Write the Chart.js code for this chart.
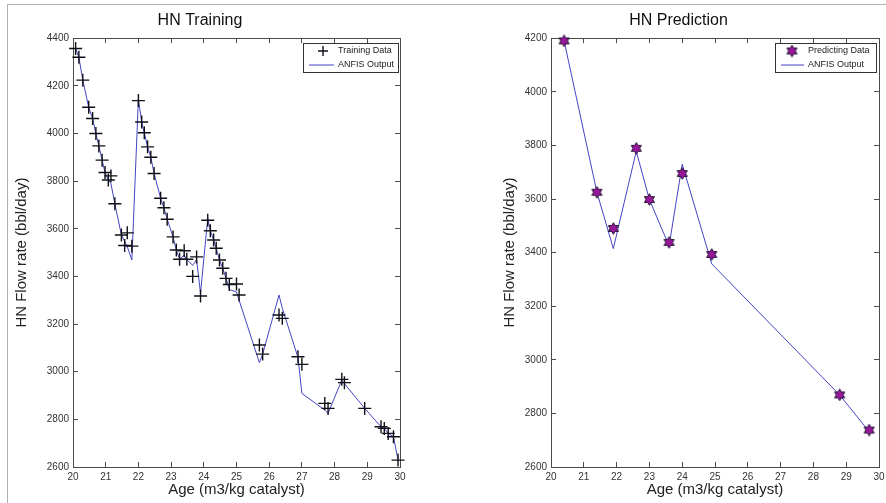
<!DOCTYPE html>
<html>
<head>
<meta charset="utf-8">
<script src="https://cdn.jsdelivr.net/npm/chart.js@4.4.0/dist/chart.umd.min.js"></script>
<style>
  html, body { margin: 0; padding: 0; background: #fff; overflow: hidden; width: 886px; height: 503px; }
  #frame { position: absolute; left: 7px; top: 4px; width: 900px; height: 520px; border-left: 1px solid #b0b0b0; border-top: 1px solid #b0b0b0; }
  #wrapL { position: absolute; left: 0; top: 0; width: 473px; height: 503px; }
  #wrapR { position: absolute; left: 478px; top: 0; width: 474px; height: 503px; }
</style>
</head>
<body>
<div id="frame"></div>
<div id="wrapL"><canvas id="trainChart" width="473" height="503"></canvas></div>
<div id="wrapR"><canvas id="predChart" width="474" height="503"></canvas></div>
<script>
// training set
var train_age = [20.08, 20.18, 20.30, 20.48, 20.60, 20.70, 20.79, 20.89, 20.98, 21.08,
  21.16, 21.28, 21.48, 21.58, 21.66, 21.80, 22.00, 22.10, 22.18, 22.28,
  22.38, 22.48, 22.68, 22.78, 22.88, 23.06, 23.16, 23.26, 23.40, 23.48,
  23.66, 23.78, 23.90, 24.12, 24.20, 24.30, 24.38, 24.48, 24.58, 24.68,
  24.78, 25.00, 25.08, 25.70, 25.80, 26.30, 26.40, 26.88, 27.00, 27.70,
  27.80, 28.22, 28.30, 28.92, 29.42, 29.52, 29.64, 29.80, 29.94];
var train_flow = [4357, 4320, 4224, 4110, 4063, 4000, 3948, 3888, 3836, 3805,
  3822, 3705, 3574, 3530, 3583, 3527, 4138, 4048, 4003, 3944,
  3900, 3832, 3728, 3688, 3640, 3566, 3511, 3472, 3508, 3472,
  3400, 3482, 3318, 3636, 3592, 3553, 3518, 3469, 3434, 3392,
  3366, 3368, 3322, 3112, 3074, 3238, 3224, 3063, 3031, 2867,
  2846, 2968, 2954, 2846, 2769, 2762, 2741, 2727, 2629];
var train_anfis = [4357, 4320, 4224, 4110, 4063, 4000, 3948, 3888, 3836, 3805,
  3790, 3705, 3574, 3548, 3525, 3469, 4145, 4048, 4003, 3944,
  3900, 3832, 3728, 3688, 3640, 3566, 3511, 3472, 3490, 3470,
  3447, 3470, 3330, 3644, 3592, 3553, 3518, 3469, 3434, 3392,
  3345, 3335, 3300, 3038, 3074, 3322, 3267, 3060, 2909, 2839,
  2825, 2965, 2950, 2846, 2769, 2762, 2741, 2727, 2629];

// prediction set
var pred_age = [20.4, 21.4, 21.9, 22.6, 23.0, 23.6, 24.0, 24.9, 28.8, 29.7];
var pred_flow = [4190, 3625, 3490, 3789, 3598, 3438, 3695, 3393, 2869, 2738];
var pred_anfis = [4190, 3625, 3415, 3778, 3598, 3425, 3730, 3358, 2869, 2732];

// tick labels
var age_ticks = [20, 21, 22, 23, 24, 25, 26, 27, 28, 29, 30];
var train_ticks = [2600, 2800, 3000, 3200, 3400, 3600, 3800, 4000, 4200, 4400];
var pred_ticks = [2600, 2800, 3000, 3200, 3400, 3600, 3800, 4000, 4200];

var FONT = '"Liberation Sans", Arial, Helvetica, sans-serif';
var AXIS = '#4a4a4a';

// six-pointed star marker
var hexStar = document.createElement('canvas');
hexStar.width = 13; hexStar.height = 13;
(function() {
  var c = hexStar.getContext('2d');
  c.beginPath();
  for (var k = 0; k < 12; k++) {
    var ang = (-90 + 30 * k) * Math.PI / 180;
    var r = k % 2 === 0 ? 5.8 : 5.8 / Math.sqrt(3);
    c.lineTo(6.5 + r * Math.cos(ang), 6.5 + r * Math.sin(ang));
  }
  c.closePath();
  c.fillStyle = '#98189a';
  c.fill();
  c.lineWidth = 1;
  c.strokeStyle = '#1c1030';
  c.stroke();
})();

function pts(xs, ys) {
  return xs.map(function(x, i) { return {x: x, y: ys[i]}; });
}

// MATLAB style legend box inside the axes
var boxLegend = {
  id: 'boxLegend',
  afterDatasetsDraw: function(chart, args, opts) {
    var ctx = chart.ctx, a = chart.chartArea;
    var w = opts.width, h = 29;
    var x0 = Math.round(a.right - w - opts.right), y0 = Math.round(a.top + 5);
    ctx.save();
    ctx.fillStyle = '#fff';
    ctx.fillRect(x0, y0, w, h);
    ctx.strokeStyle = '#333';
    ctx.lineWidth = 1;
    ctx.strokeRect(x0 + 0.5, y0 + 0.5, w, h);
    ctx.font = '9px ' + FONT;
    ctx.textBaseline = 'middle';
    chart.data.datasets.forEach(function(ds, i) {
      var cy = y0 + 8 + i * 13.5;
      var cx = x0 + opts.markX;
      if (ds.showLine) {
        ctx.strokeStyle = ds.borderColor;
        ctx.lineWidth = 1;
        ctx.beginPath();
        ctx.moveTo(x0 + 6, cy + 0.5);
        ctx.lineTo(x0 + opts.textX - 4, cy + 0.5);
        ctx.stroke();
      } else if (ds.pointStyle === 'cross') {
        ctx.strokeStyle = ds.borderColor;
        ctx.lineWidth = 1.4;
        ctx.beginPath();
        ctx.moveTo(cx - 5, cy); ctx.lineTo(cx + 5, cy);
        ctx.moveTo(cx, cy - 5); ctx.lineTo(cx, cy + 5);
        ctx.stroke();
      } else {
        ctx.drawImage(ds.pointStyle, cx - 6.5, cy - 6.5);
      }
      ctx.fillStyle = '#222';
      ctx.fillText(ds.label, x0 + opts.textX, cy);
    });
    ctx.restore();
  }
};

function axisPair(ticks, pos, secondary, extra) {
  var o = {
    type: 'linear',
    position: pos,
    min: ticks[0],
    max: ticks[ticks.length - 1],
    afterBuildTicks: function(s) { s.ticks = ticks.map(function(v) { return {value: v}; }); },
    grid: { drawOnChartArea: false, drawTicks: true, tickLength: -5, color: AXIS, lineWidth: 1 },
    border: { display: true, color: AXIS, width: 1 },
    ticks: {
      display: !secondary,
      color: '#333',
      font: { family: FONT, size: 10 },
      padding: 9,
      callback: function(v) { return String(v); }
    }
  };
  for (var k in extra) o[k] = extra[k];
  return o;
}

function makeChart(id, title, ageArr, flowArr, anfisArr, yTicks, markLabel, markStyle, markRadius, legendOpts, yTitlePad) {
  var markerSet = {
    label: markLabel,
    data: pts(ageArr, flowArr),
    showLine: false,
    pointStyle: markStyle,
    pointRadius: markRadius,
    pointHoverRadius: markRadius,
    borderColor: '#101018',
    backgroundColor: '#101018',
    pointBorderWidth: 1.4,
    clip: false
  };
  var lineSet = {
    label: 'ANFIS Output',
    data: pts(ageArr, anfisArr),
    showLine: true,
    pointRadius: 0,
    borderColor: '#4444c4',
    borderWidth: 1,
    tension: 0,
    clip: false
  };
  return new Chart(document.getElementById(id), {
    type: 'scatter',
    data: { datasets: [markerSet, lineSet] },
    options: {
      responsive: false,
      animation: false,
      events: [],
      layout: { padding: { left: 0, right: 73, top: 0, bottom: 0 } },
      plugins: {
        legend: { display: false },
        tooltip: { enabled: false },
        title: {
          display: true,
          text: title,
          color: '#111',
          font: { family: FONT, size: 16, weight: 'normal' },
          padding: { top: 11, bottom: 8 }
        },
        boxLegend: legendOpts
      },
      scales: {
        x: axisPair(age_ticks, 'bottom', false, {
          title: { display: true, text: 'Age (m3/kg catalyst)', color: '#222',
                   font: { family: FONT, size: 15 }, padding: { top: 0, bottom: 4 } },
          afterFit: function(s) { s.height = 36; }
        }),
        x2: axisPair(age_ticks, 'top', true, { afterFit: function(s) { s.height = 0; } }),
        y: axisPair(yTicks, 'left', false, {
          title: { display: true, text: 'HN Flow rate (bbl/day)', color: '#222',
                   font: { family: FONT, size: 15 }, padding: { top: yTitlePad, bottom: 0 } },
          afterFit: function(s) { s.width = 73; }
        }),
        y2: axisPair(yTicks, 'right', true, { afterFit: function(s) { s.width = 0; } })
      }
    },
    plugins: [boxLegend]
  });
}

makeChart('trainChart', 'HN Training', train_age, train_flow, train_anfis, train_ticks,
  'Training Data', 'cross', 6.5, { width: 95, right: 2, markX: 20, textX: 35 }, 13);
makeChart('predChart', 'HN Prediction', pred_age, pred_flow, pred_anfis, pred_ticks,
  'Predicting Data', hexStar, 6, { width: 101, right: 3, markX: 17, textX: 33 }, 23);
</script>
</body>
</html>
